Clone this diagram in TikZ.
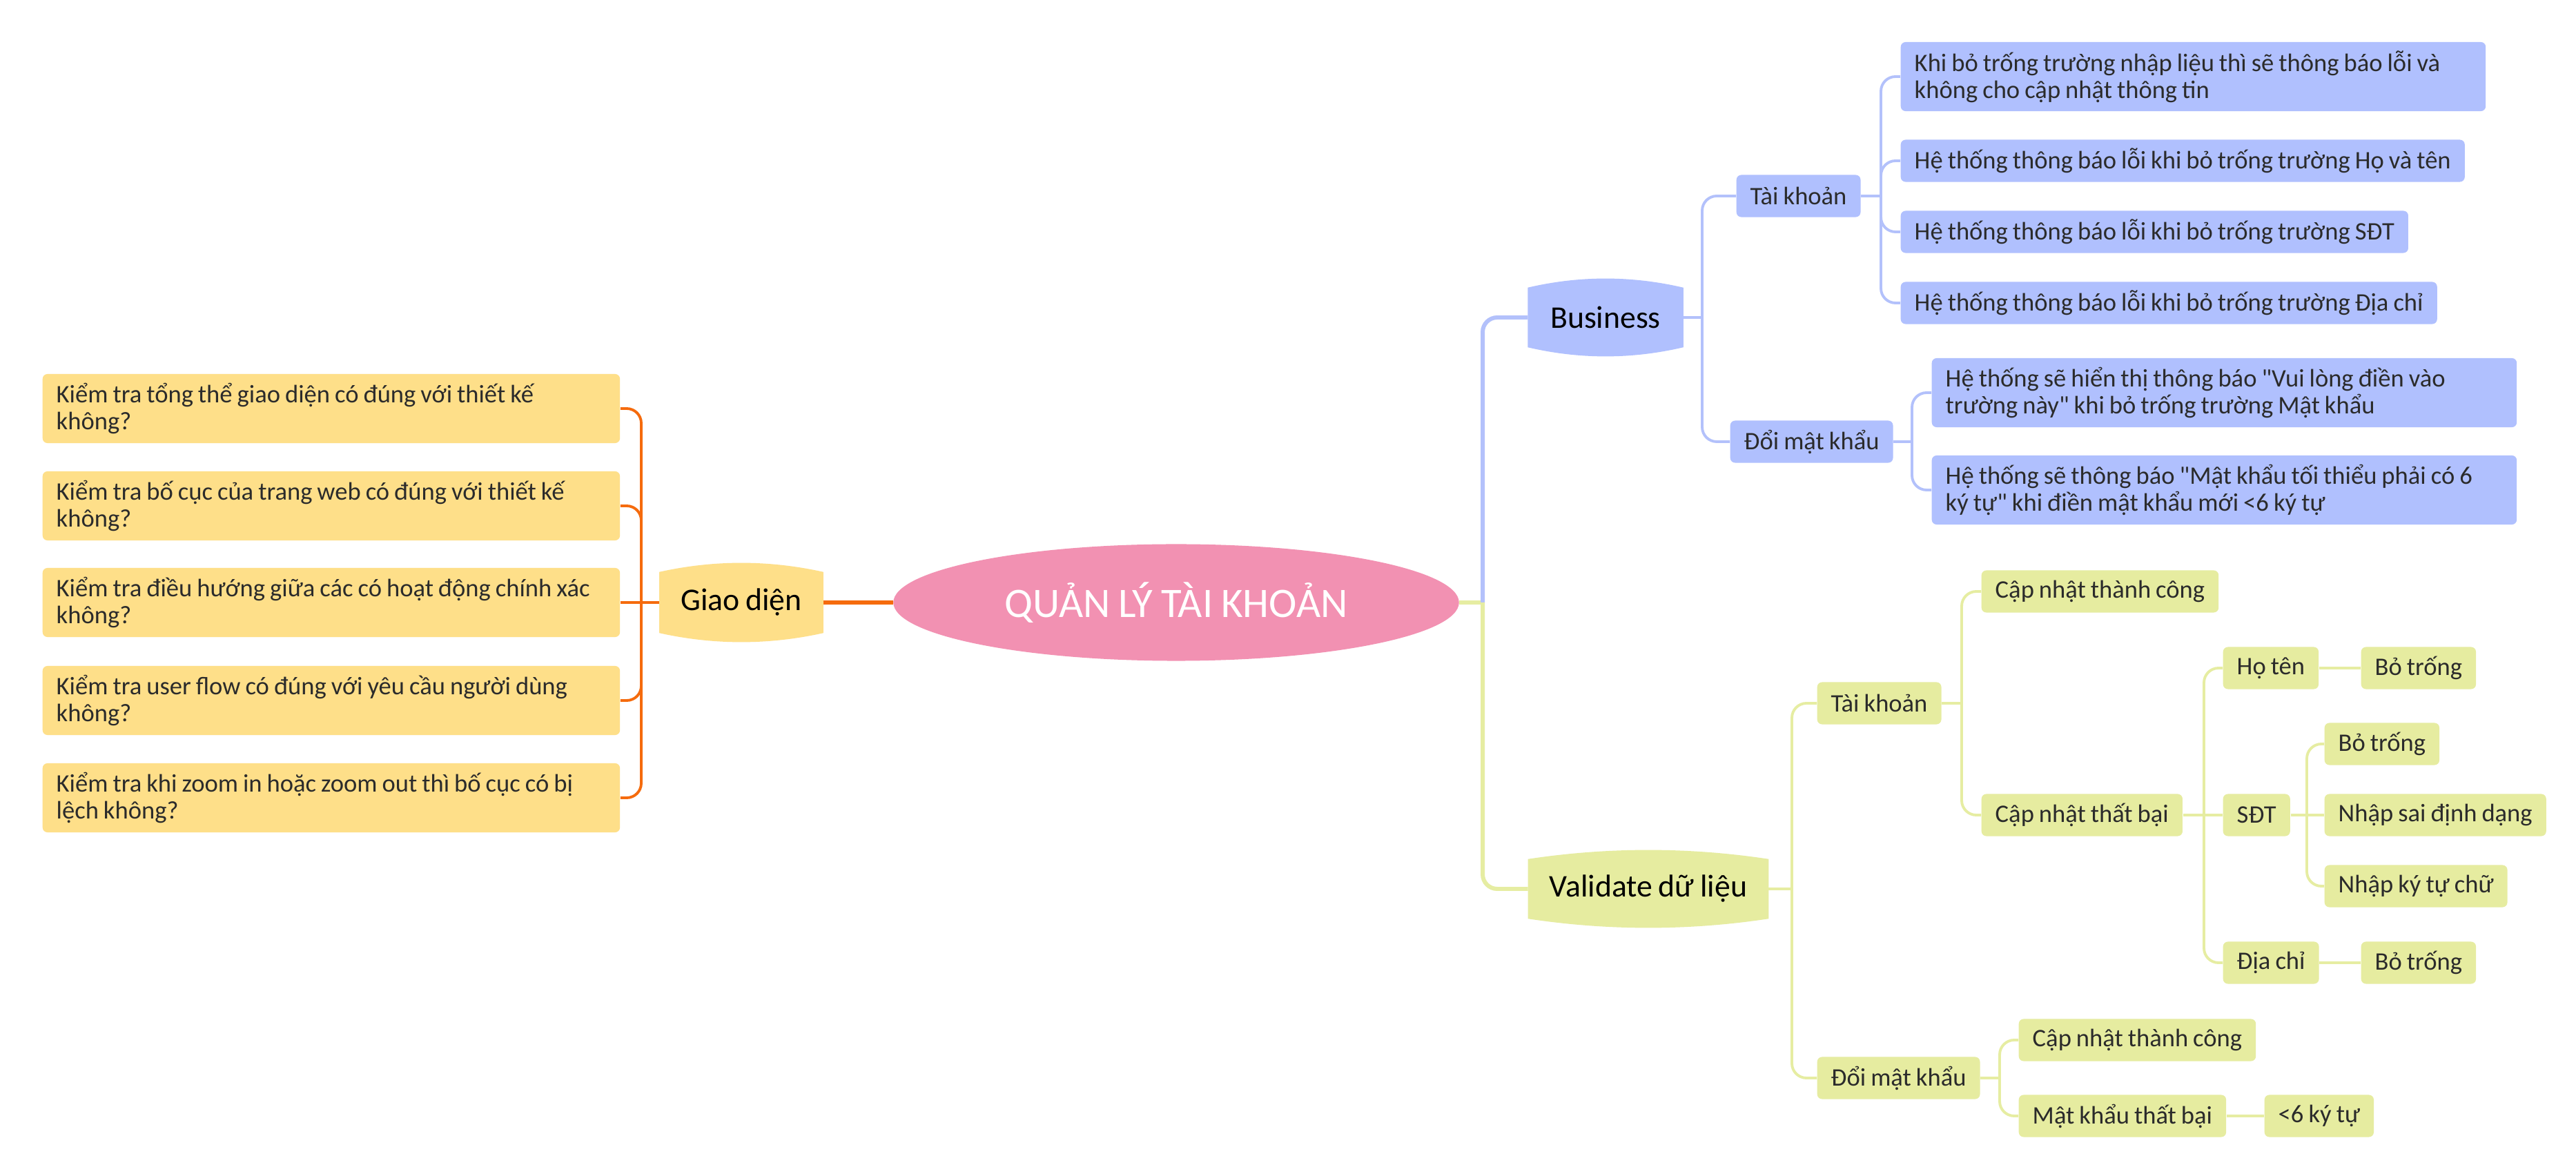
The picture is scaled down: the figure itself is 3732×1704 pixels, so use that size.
\documentclass[tikz,border=0pt]{standalone}
\usepackage{fontspec}
\setmainfont{Carlito}[WordSpace=0.85]
\usepackage{xcolor}
\usepackage{tikz}
\usetikzlibrary{positioning,shapes.geometric,backgrounds}

\definecolor{rootpink}{HTML}{F291B2}
\definecolor{gdline}{HTML}{F56B0D}
\definecolor{gdfill}{HTML}{FEDF89}
\definecolor{busfill}{HTML}{B0C0FE}
\definecolor{busline}{HTML}{B3C1FB}
\definecolor{valfill}{HTML}{E6ECA0}
\definecolor{valline}{HTML}{E6EDA2}
\definecolor{leaftext}{HTML}{2B2B2B}

% straight double quote
\newcommand{\qt}{\XeTeXglyph\XeTeXcharglyph"22 }
% bulged box behind a main topic
\newcommand{\topicshape}[3]{%
  \fill[#2] (#1.south west) -- (#1.north west)
    .. controls ([xshift=#3,yshift=5pt]#1.north west) and ([xshift=-#3,yshift=5pt]#1.north east) .. (#1.north east)
    -- (#1.south east)
    .. controls ([xshift=-#3,yshift=-5pt]#1.south east) and ([xshift=#3,yshift=-5pt]#1.south west) .. (#1.south west)
    -- cycle;}

\begin{document}
\begin{tikzpicture}[x=0.01cm, y=-0.01cm,
    leaf/.style={rectangle, rounded corners=2pt, anchor=west, inner xsep=0.2cm, inner ysep=0pt,
      minimum height=0.61cm, text=leaftext, font=\fontsize{10.4}{11}\selectfont},
    twoline/.style={align=flush left, minimum height=1cm},
    gleaf/.style={leaf, fill=gdfill},
    bleaf/.style={leaf, fill=busfill},
    vleaf/.style={leaf, fill=valfill},
    topic/.style={inner sep=0pt, font=\fontsize{13}{15}\selectfont},
    wire/.style={line width=1.1pt, rounded corners=6pt},
    mainwire/.style={line width=1.7pt, rounded corners=6pt}]
  \useasboundingbox (0,0) rectangle (3732,1704);

  % centre
  \node[ellipse, fill=rootpink, text=white, inner sep=0pt, minimum width=8.19cm, minimum height=1.69cm,
    font=\fontsize{17.3}{20}\selectfont] (root) at (1704,873) {QUẢN LÝ TÀI KHOẢN};

  % main topics
  \node[topic, minimum width=2.36cm, minimum height=0.87cm] (gd) at (1074,873) {Giao diện};
  \node[topic, minimum width=2.24cm, minimum height=0.85cm] (bus) at (2326,460) {Business};
  \node[topic, minimum width=3.47cm, minimum height=0.85cm] (val) at (2388,1288) {Validate dữ liệu};
  \begin{scope}[on background layer]
    \fill[white] (0,0) rectangle (3732,1704);
    \topicshape{gd}{gdfill}{0.79cm}
    \topicshape{bus}{busfill}{0.75cm}
    \topicshape{val}{valfill}{1.16cm}
  \end{scope}

  % Giao dien
  \foreach \i/\y/\t in {1/592/{Kiểm tra tổng thể giao diện có đúng với thiết kế\\không?},
      2/733/{Kiểm tra bố cục của trang web có đúng với thiết kế\\không?},
      3/873/{Kiểm tra điều hướng giữa các có hoạt động chính xác\\không?},
      4/1015/{Kiểm tra user flow có đúng với yêu cầu người dùng\\không?},
      5/1156/{Kiểm tra khi zoom in hoặc zoom out thì bố cục có bị\\lệch không?}}
    \node[gleaf, twoline, text width=7.96cm] (g\i) at (61,\y) {\t};

  % Business
  \node[bleaf] (btk) at (2515,284) {Tài khoản};
  \node[bleaf] (bdm) at (2506,640) {Đổi mật khẩu};
  \node[bleaf, twoline, text width=8.07cm] (b1) at (2753,111) {Khi bỏ trống trường nhập liệu thì sẽ thông báo lỗi và\\không cho cập nhật thông tin};
  \node[bleaf] (b2) at (2753,233) {Hệ thống thông báo lỗi khi bỏ trống trường Họ và tên};
  \node[bleaf] (b3) at (2753,336) {Hệ thống thông báo lỗi khi bỏ trống trường SĐT};
  \node[bleaf] (b4) at (2753,439) {Hệ thống thông báo lỗi khi bỏ trống trường Địa chỉ};
  \node[bleaf, twoline, text width=8.07cm] (b5) at (2798,569) {Hệ thống sẽ hiển thị thông báo \qt Vui lòng điền vào\\trường này\qt{} khi bỏ trống trường Mật khẩu};
  \node[bleaf, twoline, text width=8.07cm] (b6) at (2798,710) {Hệ thống sẽ thông báo \qt Mật khẩu tối thiểu phải có 6\\ký tự\qt{} khi điền mật khẩu mới <6 ký tự};

  % Validate
  \node[vleaf] (vtk) at (2632,1019) {Tài khoản};
  \node[vleaf] (vdm) at (2632,1562) {Đổi mật khẩu};
  \node[vleaf] (vok) at (2870,857) {Cập nhật thành công};
  \node[vleaf] (vfail) at (2870,1181) {Cập nhật thất bại};
  \node[vleaf] (vht) at (3220,968) {Họ tên};
  \node[vleaf] (vsdt) at (3220,1181) {SĐT};
  \node[vleaf] (vdc) at (3220,1395) {Địa chỉ};
  \node[vleaf] (vht1) at (3420,968) {Bỏ trống};
  \node[vleaf] (s1) at (3367,1078) {Bỏ trống};
  \node[vleaf] (s2) at (3367,1181) {Nhập sai định dạng};
  \node[vleaf] (s3) at (3367,1284) {Nhập ký tự chữ};
  \node[vleaf] (vdc1) at (3420,1395) {Bỏ trống};
  \node[vleaf] (vdm1) at (2924,1507) {Cập nhật thành công};
  \node[vleaf] (vdm2) at (2924,1617) {Mật khẩu thất bại};
  \node[vleaf] (vdm3) at (3280,1617) {<6 ký tự};

  % connectors, left
  \coordinate (gt) at (929,873);
  \draw[gdline, mainwire] (root.west) -- (gd.east);
  \draw[gdline, wire] (gd.west) -- (gt) -- (g3.east);
  \foreach \i in {1,2,4,5}
    \draw[gdline, wire] (gt) |- (g\i.east);

  % connectors, right
  \coordinate (rt) at (2148,873);
  \draw[valline, mainwire] (root.east) -- (rt);
  \draw[busline, mainwire] (rt) |- (bus.west);
  \draw[valline, mainwire] (rt) |- (val.west);

  \coordinate (bt) at (2466,460);
  \draw[busline, wire] (bus.east) -- (bt);
  \draw[busline, wire] (bt) |- (btk.west);
  \draw[busline, wire] (bt) |- (bdm.west);
  \coordinate (bt1) at (2725,284);
  \draw[busline, wire] (btk.east) -- (bt1);
  \foreach \n in {b1,b2,b3,b4}
    \draw[busline, wire] (bt1) |- (\n.west);
  \coordinate (bt2) at (2770,640);
  \draw[busline, wire] (bdm.east) -- (bt2);
  \foreach \n in {b5,b6}
    \draw[busline, wire] (bt2) |- (\n.west);

  \coordinate (vt) at (2596,1288);
  \draw[valline, wire] (val.east) -- (vt);
  \draw[valline, wire] (vt) |- (vtk.west);
  \draw[valline, wire] (vt) |- (vdm.west);
  \coordinate (vt1) at (2842,1019);
  \draw[valline, wire] (vtk.east) -- (vt1);
  \draw[valline, wire] (vt1) |- (vok.west);
  \draw[valline, wire] (vt1) |- (vfail.west);
  \coordinate (vt2) at (3193,1181);
  \draw[valline, wire] (vfail.east) -- (vt2) -- (vsdt.west);
  \draw[valline, wire] (vt2) |- (vht.west);
  \draw[valline, wire] (vt2) |- (vdc.west);
  \draw[valline, wire] (vht.east) -- (vht1.west);
  \coordinate (vt3) at (3342,1181);
  \draw[valline, wire] (vsdt.east) -- (vt3) -- (s2.west);
  \draw[valline, wire] (vt3) |- (s1.west);
  \draw[valline, wire] (vt3) |- (s3.west);
  \draw[valline, wire] (vdc.east) -- (vdc1.west);
  \coordinate (vt4) at (2897,1562);
  \draw[valline, wire] (vdm.east) -- (vt4);
  \draw[valline, wire] (vt4) |- (vdm1.west);
  \draw[valline, wire] (vt4) |- (vdm2.west);
  \draw[valline, wire] (vdm2.east) -- (vdm3.west);
\end{tikzpicture}
\end{document}
